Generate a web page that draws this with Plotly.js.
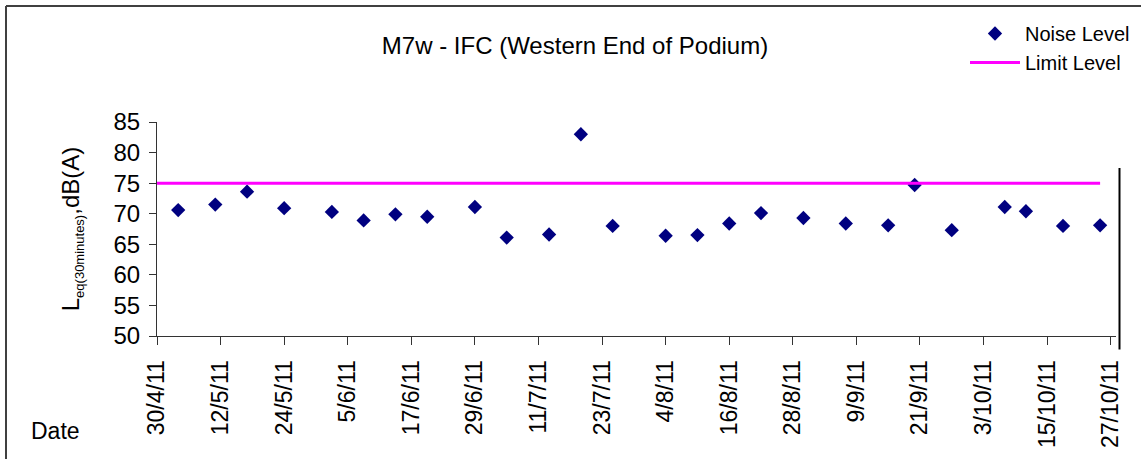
<!DOCTYPE html>
<html>
<head>
<meta charset="utf-8">
<script src="https://cdn.plot.ly/plotly-3.0.1.min.js"></script>
<style>
html,body{margin:0;padding:0;background:#fff;}
#chart{width:1141px;height:459px;}
</style>
</head>
<body>
<div id="chart"></div>
<script>
// Data
const sampleDates = ['2011-05-04','2011-05-11','2011-05-17','2011-05-24','2011-06-02','2011-06-08','2011-06-14','2011-06-20','2011-06-29','2011-07-05','2011-07-13','2011-07-19','2011-07-25','2011-08-04','2011-08-10','2011-08-16','2011-08-22','2011-08-30','2011-09-07','2011-09-15','2011-09-20','2011-09-27','2011-10-07','2011-10-11','2011-10-18','2011-10-25'];
const noiseLevels = [70.6,71.5,73.6,70.9,70.3,68.9,69.9,69.5,71.1,66.1,66.6,83.0,68.0,66.4,66.5,68.4,70.1,69.3,68.4,68.1,74.7,67.3,71.1,70.4,68.0,68.1];
const limitDates = ['2011-04-29','2011-10-25'];
const limitLevels = [75, 75];
const seriesNames = ['Noise Level', 'Limit Level'];
const xRange = ['2011-04-30', '2011-10-28'];
const yRange = [50, 85];

const FONT = 'Arial, "Liberation Sans", sans-serif';
const W = 1141, H = 459;
const M = {l:157, r:25, t:122, b:123, autoexpand:false};
const pw = W - M.l - M.r, ph = H - M.t - M.b;
const px = v => (v - M.l) / pw;          // pixel x -> paper x
const py = v => (H - M.b - v) / ph;      // pixel y -> paper y

const traces = [
  {
    type:'scatter', mode:'markers', name:seriesNames[0],
    x:sampleDates, y:noiseLevels,
    marker:{symbol:'diamond', size:11, color:'#000080'},
    hoverinfo:'skip'
  },
  {
    type:'scatter', mode:'lines', name:seriesNames[1],
    x:limitDates, y:limitLevels,
    line:{color:'#FF00FF', width:3},
    hoverinfo:'skip'
  }
];

const layout = {
  width:W, height:H,
  margin:M,
  paper_bgcolor:'#ffffff', plot_bgcolor:'#ffffff',
  font:{family:FONT, color:'#000000'},
  showlegend:true,
  title:{
    text:'M7w - IFC (Western End of Podium)',
    font:{family:FONT, size:24, color:'#000'},
    x:575/W, xref:'container', xanchor:'center',
    y:1-45.5/H, yref:'container', yanchor:'middle'
  },
  xaxis:{
    type:'date', range:xRange,
    tick0:'2011-04-30', dtick:12*86400000,
    tickformat:'%-d/%-m/%y', tickangle:-90,
    ticks:'outside', ticklen:8, tickcolor:'#333', tickwidth:1,
    ticklabelstandoff:6,
    showline:true, linecolor:'#333', linewidth:1,
    showgrid:false, zeroline:false,
    tickfont:{family:FONT, size:23, color:'#000'},
    fixedrange:true
  },
  yaxis:{
    range:yRange, dtick:5, tick0:50,
    ticks:'outside', ticklen:7, tickcolor:'#333', tickwidth:1,
    ticklabelstandoff:4,
    showline:true, linecolor:'#333', linewidth:1,
    showgrid:false, zeroline:false,
    tickfont:{family:FONT, size:24, color:'#000'},
    title:{
      text:'L<sub><span style="font-size:13px">eq(30minutes)</span></sub>,dB(A)',
      font:{family:FONT, size:24, color:'#000'},
      standoff:27
    },
    fixedrange:true
  },
  legend:{
    x:px(965), xanchor:'left', xref:'paper',
    y:py(14), yanchor:'top', yref:'paper',
    bgcolor:'rgba(0,0,0,0)', borderwidth:0,
    itemwidth:50,
    font:{family:FONT, size:20, color:'#000'}
  },
  annotations:[
    {text:'Date', xref:'paper', yref:'paper', x:px(55.5), y:py(431),
     xanchor:'center', yanchor:'middle', showarrow:false,
     font:{family:FONT, size:23, color:'#000'}}
  ],
  shapes:[
    {type:'line', xref:'paper', yref:'paper', x0:px(6), x1:px(1141), y0:py(6), y1:py(6),
     line:{color:'#404040', width:2}},
    {type:'line', xref:'paper', yref:'paper', x0:px(6), x1:px(6), y0:py(6), y1:py(459),
     line:{color:'#404040', width:2}},
    {type:'line', xref:'paper', yref:'paper', x0:px(1119.5), x1:px(1119.5), y0:py(168), y1:py(349.5),
     line:{color:'#000000', width:2}}
  ]
};

Plotly.newPlot('chart', traces, layout, {displayModeBar:false, staticPlot:true});
</script>
</body>
</html>
